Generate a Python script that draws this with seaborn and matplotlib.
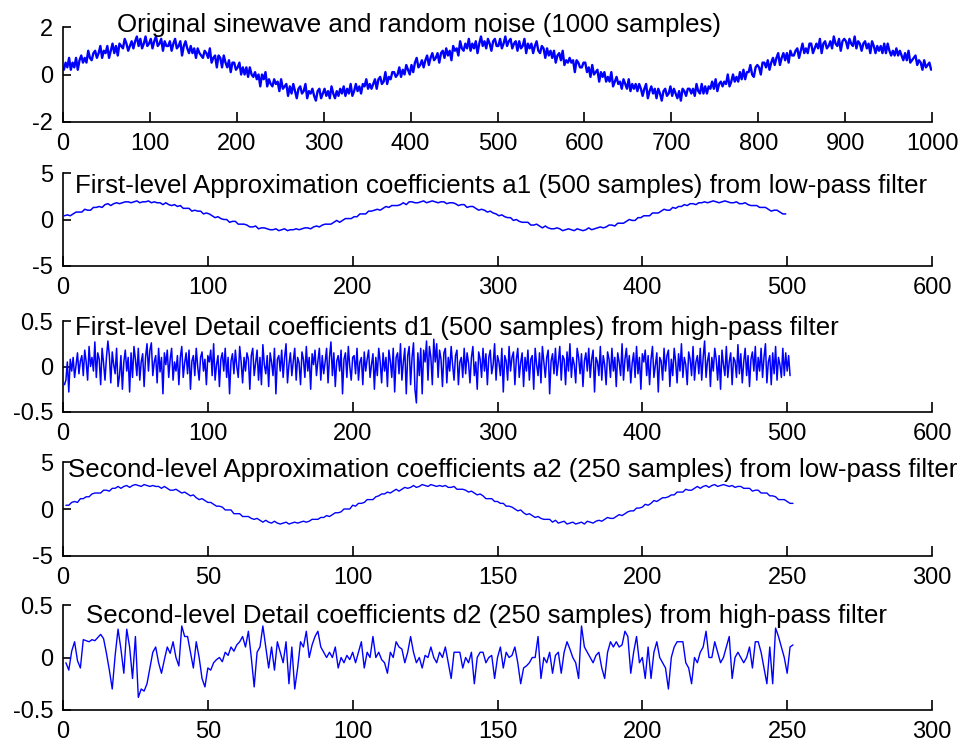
import numpy as np
import matplotlib
matplotlib.use("Agg")
import matplotlib.pyplot as plt
import seaborn as sns

# original signal (sine + noise), read every 2nd sample of the 1000
orig = [
    .2, .5, .3, .7, .2, .5, .3, .7, .2, .6,
    .8, .5, .7, .5, 1.0, .7, .6, .9, 1.0, .7,
    .9, 1.2, .7, 1.0, .9, 1.2, .7, 1.0, 1.3, .9,
    1.2, .8, 1.3, 1.2, 1.1, 1.5, 1.3, 1.0, 1.2, 1.4,
    1.1, 1.4, 1.6, 1.2, 1.5, 1.1, 1.3, 1.6, 1.2, 1.3,
    1.5, 1.1, 1.4, 1.6, 1.2, 1.3, 1.5, 1.0, 1.4, 1.2,
    1.2, 1.4, 1.0, 1.3, 1.5, 1.1, 1.2, 1.4, .8, 1.2,
    1.4, 1.1, .9, 1.2, .9, 1.1, .7, 1.1, .9, .8,
    .7, 1.0, .9, .7, 1.1, .5, .7, .8, .3, .8,
    .7, .3, .8, .5, .3, .6, .1, .5, .5, .2,
    .3, .5, 0, .3, 0, .3, -.1, .3, 0, -.1,
    .1, -.2, 0, -.5, 0, -.2, .1, -.5, -.2, -.4,
    -.5, -.2, -.4, -.3, -.7, -.2, -.6, -.5, -.4, -.9,
    -.5, -.8, -.4, -.7, -1.0, -.6, -.5, -.8, -.7, -.4,
    -1.0, -.7, -.8, -.6, -.9, -1.1, -.7, -.6, -1.0, -.8,
    -.6, -.9, -.7, -1.0, -.5, -.8, -1.0, -.7, -.9, -.6,
    -.8, -.5, -.9, -.6, -.8, -.4, -.9, -.7, -.4, -.7,
    -.5, -.8, -.4, -.5, -.2, -.6, -.4, -.6, -.4, -.2,
    -.6, -.2, -.1, -.4, -.3, .1, -.4, -.1, -.2, .1,
    .1, -.1, 0, .3, -.1, .2, 0, .4, .2, 0,
    .4, .1, .5, .7, .3, .4, .6, .3, .6, .8,
    .4, .7, .9, .6, .7, .9, .5, .9, 1.0, .7,
    1.1, .8, 1.0, .6, 1.2, 1.0, 1.1, .8, 1.4, 1.1,
    1.0, 1.3, 1.1, 1.5, 1.0, 1.3, 1.1, 1.4, .9, 1.3,
    1.6, 1.2, 1.4, 1.1, 1.5, 1.3, 1.0, 1.4, 1.5, 1.2,
    1.2, 1.5, 1.1, 1.3, 1.6, 1.2, 1.4, 1.5, 1.1, 1.3,
    1.4, 1.0, 1.4, 1.1, 1.2, 1.5, .9, 1.3, 1.1, 1.3,
    .9, 1.2, 1.4, 1.0, .9, 1.2, 1.1, .7, 1.1, .8,
    1.0, .7, 1.0, .5, .8, .9, .6, 1.0, .4, .6,
    .5, .7, .5, .6, .1, .6, .5, .3, .3, .5,
    .5, .1, .3, -.1, .4, 0, .1, .2, -.3, .1,
    -.1, .1, -.3, -.1, -.3, .1, -.5, -.3, -.1, -.4,
    -.3, -.6, -.2, -.4, -.6, -.2, -.7, -.4, -.6, -.4,
    -.7, -.4, -.6, -.9, -.6, -.4, -1.0, -.7, -.5, -.8,
    -.6, -1.0, -.6, -.8, -1.1, -.7, -.6, -.9, -.8, -.5,
    -.9, -.6, -.8, -1.0, -.7, -1.1, -.6, -.7, -.9, -.6,
    -.6, -.8, -.6, -.9, -.4, -.7, -.8, -.4, -.8, -.5,
    -.8, -.5, -.6, -.3, -.6, -.2, -.7, -.4, -.3, -.5,
    -.3, -.4, 0, -.5, -.3, 0, -.3, -.1, -.3, .1,
    -.2, .2, -.2, .1, .1, .4, 0, -.1, .3, .4,
    .3, 0, .5, .5, .3, .6, .2, .5, .7, .4,
    .7, .9, .4, .7, .9, .6, .9, .5, 1.0, .8,
    .8, 1.0, 1.1, .7, 1.0, 1.3, .9, 1.1, .9, 1.3,
    1.3, .9, 1.1, 1.3, 1.1, 1.5, .9, 1.3, 1.4, 1.1,
    1.2, 1.4, 1.1, 1.6, 1.3, 1.2, 1.5, 1.0, 1.4, 1.5,
    1.4, 1.1, 1.5, 1.3, 1.2, 1.6, 1.1, 1.4, 1.3, 1.0,
    1.3, 1.4, 1.1, 1.3, .9, 1.4, 1.2, .9, 1.2, 1.0,
    1.2, .9, 1.3, .9, 1.3, 1.0, .8, 1.0, .8, 1.1,
    .8, 1.0, .8, .6, .9, .6, 1.0, .5, .6, .7,
    .8, .4, .6, .5, .2, .6, .3, .4, .5, .2,
]

# first-level approximation a1, every 2nd coefficient
a1 = [
    .4, .5, .4, .6, .8, .8, .8, 1.1, 1.0, 1.0, 1.3, 1.3, 1.4, 1.3, 1.6, 1.7, 1.5, 1.7, 1.8, 1.7,
    1.8, 1.9, 1.9, 1.8, 1.9, 2.0, 1.8, 1.9, 1.9, 2.0, 1.8, 1.9, 1.8, 1.8, 1.6, 1.8, 1.6, 1.5, 1.6, 1.4,
    1.5, 1.2, 1.2, 1.2, .9, 1.0, .9, .9, .6, .7,
    .6, .4, .2, .3, .1, 0, 0, -.3, -.2, -.2, -.5, -.5, -.5, -.6, -.8, -.8, -.7, -1.0, -.9, -.9,
    -1.0, -1.1, -1.1, -1.0, -1.2, -1.1, -1.0, -1.2, -1.1, -1.1, -1.0, -1.1, -1.0, -.9, -.9, -1.0, -.8, -.7, -.8, -.6,
    -.5, -.5, -.5, -.3, -.1, -.3, -.1, .1, .1, .1,
    .3, .3, .6, .6, .6, .9, .9, 1.0, 1.1, 1.0, 1.2, 1.4, 1.3, 1.5, 1.5, 1.5, 1.6, 1.8, 1.6, 1.9,
    1.9, 1.8, 1.8, 1.9, 2.0, 1.8, 1.9, 2.0, 1.9, 1.8, 1.9, 1.9, 1.7, 1.8, 1.8, 1.7, 1.5, 1.6, 1.6, 1.3,
    1.4, 1.4, 1.2, 1.0, 1.1, 1.0, .8, .9, .7, .6,
    .4, .5, .3, .2, .2, -.1, 0, -.2, -.3, -.3, -.3, -.6, -.6, -.5, -.7, -.9, -.7, -.9, -1.0, -1.0,
    -.9, -1.0, -1.2, -1.1, -1.0, -1.1, -1.2, -1.0, -1.1, -1.2, -1.1, -.9, -1.1, -1.0, -.9, -.8, -.9, -.8, -.6, -.6,
    -.7, -.4, -.4, -.4, -.2, 0, -.1, -.1, .2, .2,
    .4, .4, .4, .7, .7, .7, .9, 1.1, 1.0, 1.0, 1.3, 1.2, 1.4, 1.4, 1.6, 1.5, 1.7, 1.7, 1.6, 1.8,
    1.8, 1.9, 1.8, 1.9, 2.0, 1.9, 1.8, 1.9, 2.0, 1.9, 1.8, 1.8, 1.9, 1.7, 1.7, 1.8, 1.6, 1.5, 1.5, 1.5,
    1.3, 1.3, 1.3, 1.1, .9, 1.0, 1.0, .8, .6, .6,
]

# first-level detail d1
d1 = [
    -.2, -.15, .05, -.28, .08, -.05, .1, -.12, .02, .15, -.08, .06, .12, -.1, .18, .05, -.15, .22, 0, .1,
    -.05, .27, -.12, .15, .08, -.2, .2, .04, -.15, .1, .28, .12, -.18, .16, .02, -.08, .2, -.22, -.1, .12,
    -.25, .05, .18, -.05, .1, -.28, .15, -.12, .22, .08, -.1, .2, -.15, .05, .14, -.22, .1, .25, -.05, .18,
    .26, -.1, .05, .12, -.18, .2, -.06, .1, -.3, .15, .02, .18, -.12, .08, .2, -.15, .05, -.05, .12, -.2,
    .1, .22, -.12, .04, .15, -.08, .18, -.25, .06, .12, -.1, .2, 0, -.15, .1, .16, -.05, .08, -.2, .12,
    .05, .18, -.1, .25, -.15, .02, .12, -.22, .08, .15, -.05, .2, -.12, .1, -.3, .06, .14, -.08, .18, 0,
    -.12, .22, .05, -.18, .1, -.05, .15, .08, -.25, .12, .2, -.1, .04, .18, -.15, .1, -.2, .24, .02, -.08,
    .12, -.22, .15, .05, -.1, .2, -.3, .08, .12, -.05, .18, -.12, .1, .25, -.18, .02, .15, -.1, .06, .2,
    -.15, .1, .04, -.2, .16, .08, -.12, .22, -.05, .1, -.25, .14, .02, .18, -.1, .06, .2, -.15, .12, -.08,
    .05, .2, -.18, .1, .27, -.1, .15, -.22, .06, .12, -.05, .18, -.3, .08, .15, -.12, .22, 0, -.15, .1,
    .12, -.08, .2, -.15, .05, .1, -.2, .16, -.05, .08, .18, -.12, .02, .14, -.25, .1, -.1, .2, .05, -.18,
    .15, -.05, .1, -.22, .18, .06, -.12, .2, -.28, .1, .15, -.08, .25, -.15, .05, .2, -.3, .12, .22, -.2,
    .1, .26, -.25, -.4, .15, -.1, .2, -.3, .18, .05, .28, -.15, .22, .1, -.2, .3, .05, .25, -.12, .18,
    .08, -.22, .15, .2, -.18, .1, -.05, .22, .02, -.15, .12, .18, -.2, .05, .1, -.12, .2, -.08, .15, .04,
    -.18, .1, .22, -.1, .05, -.25, .16, .08, -.12, .2, -.05, .14, -.2, .1, .18, -.08, .02, .25, -.15, .12,
    .05, -.1, .2, -.28, .12, .06, -.15, .22, -.05, .1, .16, -.2, .08, .2, -.12, .04, .15, -.22, .1, -.05,
    .18, -.15, .08, .12, -.25, .2, .02, -.1, .15, -.18, .22, .05, -.12, .1, .18, -.3, .06, .14, -.08, .2,
    -.1, .05, .22, -.15, .12, .08, -.2, .16, -.05, .25, -.12, .1, .02, -.18, .2, .1, -.08, .14, -.22, .06,
    .15, -.05, .2, -.12, .08, .18, -.28, .1, .05, -.1, .22, -.15, .12, .02, -.2, .16, .08, -.12, .2, -.05,
    .1, -.22, .15, .05, -.1, .25, -.15, .08, .2, -.05, .12, -.18, .04, .15, -.12, .22, -.08, .1, -.25, .14,
    .05, .18, -.1, .12, -.2, .08, .22, -.12, .02, .15, -.28, .1, .06, -.15, .2, -.05, .12, .18, -.22, .08,
    -.1, .2, .05, -.18, .14, -.05, .25, -.12, .1, .02, -.2, .16, .08, -.1, .22, -.15, .05, .12, -.08, .2,
    -.15, .1, .28, -.12, .06, .15, -.22, .1, -.05, .2, .08, -.15, .12, -.25, .18, .02, -.1, .22, -.12, .05,
    .15, -.2, .1, .06, -.12, .24, -.08, .14, -.18, .05, .2, -.1, .12, -.22, .08, .16, -.05, .22, -.15, .1,
    -.05, .2, -.12, .1, .25, -.18, .05, .12, -.2, .15, -.08, .22, -.15, .1, .02, -.12, .2, -.1, .15, -.05,
    .12, -.1,
]

# second-level approximation a2
a2 = [
    .4, .4, .7, .8, .7, 1.1, 1.1, 1.3, 1.3, 1.6, 1.7, 1.7, 1.7, 2.0, 2.0, 1.9, 2.2, 2.2, 2.4, 2.2,
    2.4, 2.5, 2.3, 2.5, 2.6, 2.5, 2.4, 2.6, 2.5, 2.4, 2.5, 2.4, 2.4, 2.2, 2.4, 2.2, 2.0, 2.0, 2.1, 1.9,
    1.7, 1.8, 1.6, 1.4, 1.5, 1.2, 1.0, 1.1, .9, .7, .7, .5, .3, .3, .2, -.1, -.1, -.1, -.5, -.5,
    -.5, -.8, -.8, -.8, -1.0, -1.1, -1.0, -1.2, -1.4, -1.2, -1.4, -1.5, -1.3, -1.5, -1.6, -1.5, -1.4, -1.6, -1.5, -1.4,
    -1.5, -1.4, -1.3, -1.4, -1.3, -1.1, -1.1, -1.1, -.9, -.9, -.7, -.8, -.6, -.4, -.4, -.3, 0, 0, 0, .4,
    .3, .6, .6, .7, 1.0, 1.0, 1.0, 1.3, 1.4, 1.6, 1.6, 1.8, 1.7, 1.9, 2.1, 1.9, 2.1, 2.3, 2.2, 2.3,
    2.5, 2.3, 2.4, 2.6, 2.5, 2.4, 2.6, 2.5, 2.4, 2.5, 2.4, 2.5, 2.3, 2.3, 2.4, 2.1, 2.1, 2.1, 2.0, 1.8,
    1.9, 1.7, 1.5, 1.6, 1.4, 1.1, 1.1, 1.1, .8, .8, .6, .6, .3, .3, .2, 0, -.2, -.1, -.4, -.6,
    -.5, -.7, -.9, -.8, -1.0, -1.1, -1.1, -1.1, -1.4, -1.2, -1.5, -1.4, -1.3, -1.6, -1.5, -1.4, -1.6, -1.5, -1.4, -1.6,
    -1.3, -1.4, -1.5, -1.3, -1.2, -1.3, -1.1, -.9, -1.0, -1.0, -.8, -.6, -.7, -.5, -.3, -.2, -.2, .1, .1, .2,
    .5, .4, .6, .9, .8, 1.0, 1.2, 1.2, 1.3, 1.5, 1.5, 1.8, 1.8, 1.8, 2.1, 2.0, 2.0, 2.2, 2.4, 2.2,
    2.4, 2.5, 2.3, 2.5, 2.6, 2.4, 2.5, 2.6, 2.5, 2.4, 2.5, 2.3, 2.4, 2.4, 2.2, 2.2, 2.2, 1.9, 2.0, 2.0,
    1.7, 1.7, 1.7, 1.4, 1.4, 1.3, 1.0, 1.0, 1.0, .8, .6, .6,
]

# second-level detail d2
d2 = [
    -.05, -.12, .06, .15, -.03, -.1, .17, .16, .15, .17, .16, .19, .22, .18, .04, -.12, -.3, .02, .27, .08,
    -.15, .27, .1, -.2, .2, -.38, -.3, -.32, -.25, -.1, .05, .1, -.05, -.15, -.02, .1, .04, .15, 0, -.08,
    .3, .2, .2, .05, -.1, .15, 0, -.2, -.28, -.1, -.12, -.05, -.02, 0, -.04, .05, .02, .1, .06, .12,
    .15, .2, .1, .25, 0, -.28, .05, .1, .3, .1, -.1, .1, -.12, .15, .05, -.05, .15, -.25, .1, -.3,
    -.1, .15, .1, .25, 0, .12, .2, .25, .1, .05, 0, .05, 0, .1, -.1, 0, -.05, .02, -.02, .05,
    -.05, .05, .15, -.1, .05, 0, .2, 0, .05, -.02, -.05, -.15, .05, 0, .15, .1, .08, -.05, .05, .2,
    .05, -.05, 0, -.1, .02, 0, .1, 0, -.05, .05, 0, .1, -.05, -.2, .05, .05, .05, -.1, 0, -.05,
    .05, -.25, 0, .05, .05, -.05, 0, .02, -.2, 0, .1, -.1, .05, 0, .02, .1, -.05, -.25, -.1, -.08,
    -.05, 0, 0, .2, -.2, 0, -.05, .05, -.15, .02, .05, -.15, .05, .15, .08, 0, -.05, -.2, .3, .1,
    .05, 0, -.05, .02, .05, -.1, -.2, .05, .15, .1, .15, .1, .12, .25, .2, -.15, .05, .2, -.05, 0,
    -.2, .1, -.2, .05, .15, 0, -.05, -.1, -.3, 0, .1, .15, .15, .15, -.05, -.1, -.25, 0, -.05, .05,
    .1, .25, 0, 0, .15, .05, -.05, 0, .1, .2, -.2, 0, .05, 0, -.05, 0, .1, -.1, .15, .15,
    .05, -.1, -.25, .1, -.25, .28, .2, .1, 0, -.15, .1, .12,
]

titles = [
    "Original sinewave and random noise (1000 samples)",
    "First-level Approximation coefficients a1 (500 samples) from low-pass filter",
    "First-level Detail coefficients d1 (500 samples) from high-pass filter",
    "Second-level Approximation coefficients a2 (250 samples) from low-pass filter",
    "Second-level Detail coefficients d2 (250 samples) from high-pass filter",
]
x_max = [1000, 600, 600, 300, 300]
x_step = [100, 100, 100, 50, 50]
y_ticks = [[-2, 0, 2], [-5, 0, 5], [-0.5, 0, 0.5], [-5, 0, 5], [-0.5, 0, 0.5]]
y_labels = [["-2", "0", "2"], ["-5", "0", "5"], ["-0.5", "0", "0.5"],
            ["-5", "0", "5"], ["-0.5", "0", "0.5"]]

# x positions = sample index (orig and a1 were read every 2nd sample)
series = [
    (np.arange(len(orig)) * 2 + 1, orig),
    (np.arange(len(a1)) * 2 + 1, a1),
    (np.arange(1, len(d1) + 1), d1),
    (np.arange(1, len(a2) + 1), a2),
    (np.arange(1, len(d2) + 1), d2),
]
line_w = [1.7, 1.1, 1.1, 1.0, 1.0]

sns.set_style("ticks")
plt.rcParams["font.family"] = ["Liberation Sans", "DejaVu Sans"]
plt.rcParams["axes.unicode_minus"] = False

W, H = 960, 746
fig = plt.figure(figsize=(9.6, 7.46), dpi=100)

# panel edges in pixels (top, bottom) and title anchor (x, baseline)
ax_top = [27, 173, 321, 462, 605]
ax_bot = [122, 266, 412, 556, 710]
t_x = [117, 75, 75, 68, 86]
t_base = [32, 193, 335, 477, 623]

for i in range(5):
    ax = fig.add_axes([63 / W, 1 - ax_bot[i] / H, 869 / W, (ax_bot[i] - ax_top[i]) / H])
    xs, ys = series[i]
    sns.lineplot(x=xs, y=ys, ax=ax, color="#0000ff", linewidth=line_w[i], estimator=None)
    ax.set_xlim(0, x_max[i])
    ax.set_ylim(y_ticks[i][0], y_ticks[i][-1])
    ax.set_xticks(np.arange(0, x_max[i] + 1, x_step[i]))
    ax.set_yticks(y_ticks[i])
    ax.set_yticklabels(y_labels[i])
    ax.set_xlabel("")
    ax.set_ylabel("")
    sns.despine(ax=ax)
    for sp in ax.spines.values():
        sp.set_color("black")
        sp.set_linewidth(1.2)
    ax.tick_params(axis="x", direction="in", length=7, width=1.2, labelsize=17, colors="black", pad=8)
    ax.tick_params(axis="y", direction="in", length=6, width=1.2, labelsize=17, colors="black", pad=7)
    fig.text(t_x[i] / W, 1 - t_base[i] / H, titles[i], fontsize=18.6, ha="left", va="baseline", color="black")

fig.savefig("out.png", dpi=100)
